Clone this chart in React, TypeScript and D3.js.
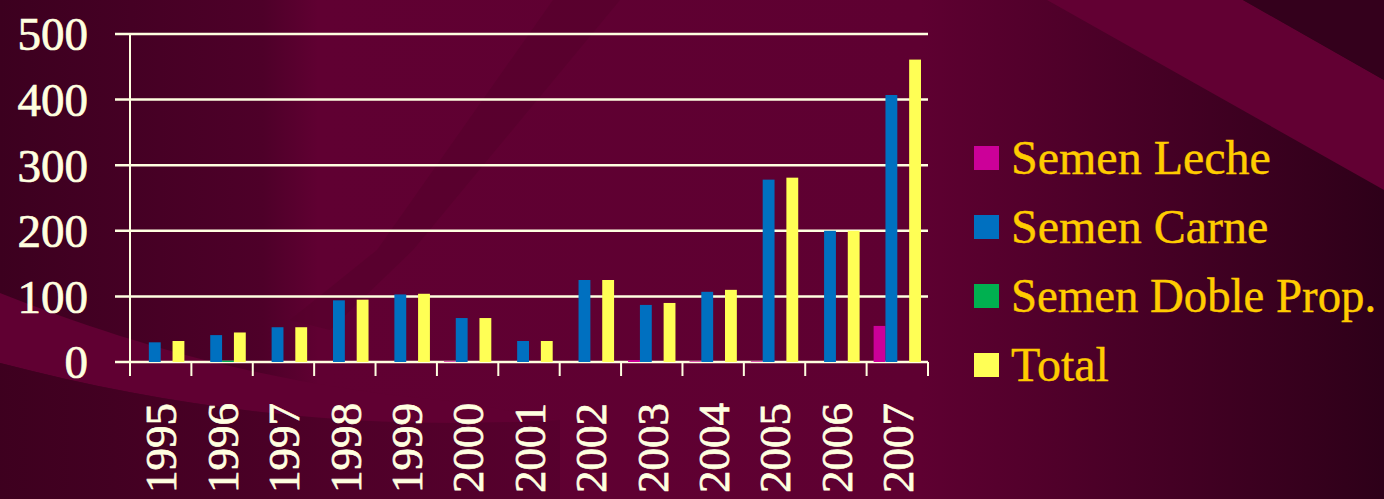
import React from 'react';
import * as d3 from 'd3';

const years = ['1995', '1996', '1997', '1998', '1999', '2000', '2001', '2002', '2003', '2004', '2005', '2006', '2007'];
const semenLeche = [0, 0, 0, 0, 0, 1, 0, 0, 3, 1, 1, 0, 55];
const semenCarne = [30, 41, 53, 94, 103, 67, 32, 125, 87, 107, 278, 200, 407];
const semenDoble = [0, 2, 0, 0, 0, 0, 0, 0, 0, 0, 0, 0, 0];
const total = [32, 45, 53, 95, 104, 67, 32, 125, 90, 110, 281, 200, 461];
const yTicks = [0, 100, 200, 300, 400, 500];
const seriesNames = ['Semen Leche', 'Semen Carne', 'Semen Doble Prop.', 'Total'];
const seriesColors = ['#CC0099', '#0070C0', '#00B050', '#FFFF55'];
const seriesValues = [semenLeche, semenCarne, semenDoble, total];

const W = 1384;
const H = 499;
const left = 130;
const right = 928;
const top = 34;
const bottom = 362;
const serif = '"Liberation Serif", "Times New Roman", serif';
const cream = '#FFFFE0';

export default function App() {
  const x = d3.scaleBand<string>().domain(years).range([left, right]).paddingInner(0).paddingOuter(0);
  const bw = x.bandwidth();
  const x1 = d3.scaleBand<string>().domain(seriesNames).range([7, bw - 7]).padding(0);
  const y = d3.scaleLinear().domain([0, 500]).range([bottom, top]);

  return (
    <svg width={W} height={H} style={{ position: 'absolute', left: 0, top: 0 }}>
      <defs>
        <linearGradient id="bg" x1="0" y1="0" x2="1" y2="0">
          <stop offset="0" stopColor="#3c001f" />
          <stop offset="0.19" stopColor="#4e0029" />
          <stop offset="0.23" stopColor="#600032" />
          <stop offset="0.665" stopColor="#5e0031" />
          <stop offset="1" stopColor="#2e0019" />
        </linearGradient>
        <linearGradient id="bgl" x1="0" y1="0" x2="1" y2="0">
          <stop offset="0" stopColor="#3e001f" />
          <stop offset="1" stopColor="#56002d" />
        </linearGradient>
      </defs>
      <rect x={0} y={0} width={W} height={H} fill="url(#bg)" />
      {/* dark diagonal stripe */}
      <path d="M 553 0 L 620 0 L 413 250 L 330 330 L 290 320 L 377 250 Z" fill="#55002b" opacity={0.6} />
      {/* top-right swoosh */}
      <path d="M 1047 0 L 1243 0 L 1384 80 L 1384 190 Z" fill="#620033" />
      <path d="M 1243 0 L 1384 0 L 1384 80 Z" fill="#34001c" />
      {/* bottom-left swoosh */}
      <path d="M 0 293 C 120 340 260 385 460 402 L 560 420 C 380 430 200 415 0 363 Z" fill="#600032" />
      <path d="M 0 363 C 200 415 380 430 560 420 L 560 499 L 0 499 Z" fill="url(#bgl)" opacity={0.9} />

      {/* gridlines */}
      {yTicks.map((t) => (
        <line key={'g' + t} x1={115} x2={right} y1={y(t)} y2={y(t)} stroke={cream} strokeWidth={2.5} />
      ))}
      {/* y axis */}
      <line x1={left} x2={left} y1={top} y2={bottom + 14} stroke={cream} strokeWidth={2} />
      {/* category ticks */}
      {years.map((yr) => (
        <line key={'t' + yr} x1={(x(yr) as number) + bw} x2={(x(yr) as number) + bw} y1={bottom} y2={bottom + 14} stroke={cream} strokeWidth={2} />
      ))}

      {/* bars */}
      {years.map((yr, i) => (
        <g key={'b' + yr} transform={`translate(${x(yr)},0)`}>
          {seriesNames.map((s, j) => {
            const v = seriesValues[j][i];
            if (v <= 0) return null;
            return (
              <rect
                key={s}
                x={x1(s)}
                y={y(v)}
                width={x1.bandwidth()}
                height={bottom - y(v)}
                fill={seriesColors[j]}
              />
            );
          })}
        </g>
      ))}

      {/* y labels */}
      {yTicks.map((t) => (
        <text key={'yl' + t} x={88} y={y(t)} dy="0.35em" textAnchor="end" fontFamily={serif} fontSize={47} fill={cream} stroke={cream} strokeWidth={0.7}>
          {t}
        </text>
      ))}

      {/* x labels */}
      {years.map((yr) => (
        <text
          key={'xl' + yr}
          transform={`translate(${(x(yr) as number) + bw / 2},403) rotate(-90)`}
          dy="0.35em"
          textAnchor="end"
          fontFamily={serif}
          fontSize={45}
          fill={cream}
          stroke={cream}
          strokeWidth={0.7}
        >
          {yr}
        </text>
      ))}

      {/* legend */}
      {seriesNames.map((s, j) => (
        <g key={'lg' + s} transform={`translate(974,${146 + j * 69})`}>
          <rect x={0} y={0} width={25} height={24} fill={seriesColors[j]} />
          <text
            transform={`translate(37,28) scale(${s.length > 15 ? 0.975 : 1},1)`}
            fontFamily={serif}
            fontSize={48}
            fill="#FFCC00"
            stroke="#FFCC00"
            strokeWidth={0.4}
          >
            {s}
          </text>
        </g>
      ))}
    </svg>
  );
}
